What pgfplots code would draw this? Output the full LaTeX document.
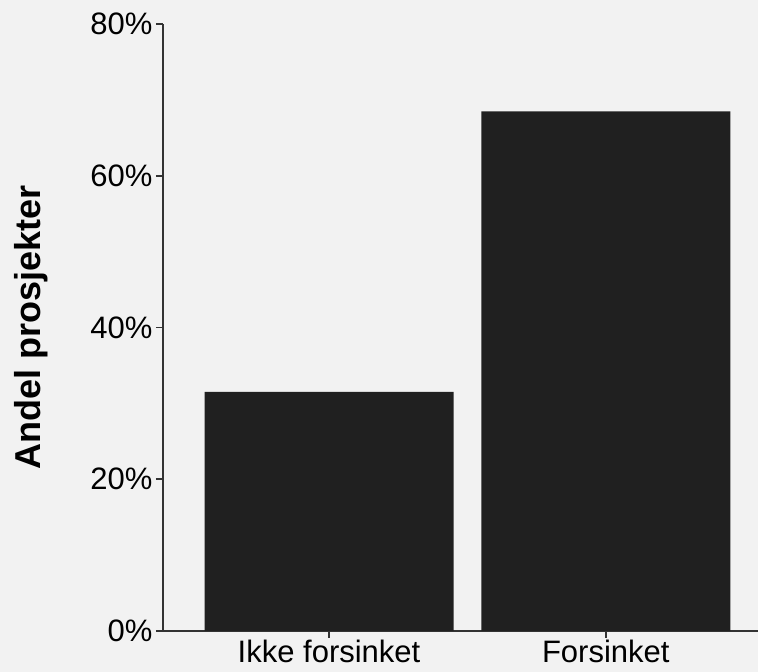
\documentclass[border=0pt]{standalone}
\usepackage{fontspec}
\setmainfont{Liberation Sans}
\usepackage{pgfplots}
\pgfplotsset{compat=1.18}
\definecolor{bgc}{HTML}{F2F2F2}
\definecolor{barc}{HTML}{202020}
\definecolor{axc}{HTML}{333333}

\begin{document}
\begin{tikzpicture}
% background, 1px = 1pt
\fill[bgc] (-163pt,-41pt) rectangle (595pt,631pt);
\useasboundingbox (-163pt,-41pt) rectangle (595pt,631pt);
\begin{axis}[
  at={(0,0)}, anchor=south west,
  scale only axis,
  width=595pt, height=607pt,
  xmin=0.4, xmax=2.55,
  ymin=0, ymax=80,
  axis lines=left,
  axis line style={-, axc, line width=1.6pt},
  tick style={axc, line width=1.6pt},
  tick align=outside,
  major tick length=7pt,
  xtick={1,2},
  xticklabels={Ikke forsinket, Forsinket},
  ytick={0,20,40,60,80},
  yticklabels={0\%,20\%,40\%,60\%,80\%},
  ticklabel style={font=\fontsize{31}{36}\selectfont, text=black},
  xticklabel style={yshift=1pt},
  ylabel={\textbf{Andel prosjekter}},
  ylabel style={at={(axis description cs:-0.2218,0.5)}, anchor=center, rotate=0,
    font=\fontsize{36}{40}\selectfont},
  clip=false,
]
\addplot[ybar, bar width=0.9, fill=barc, draw=none] coordinates {
  (1, 31.5) (2, 68.5)
};
\end{axis}
\end{tikzpicture}
\end{document}
